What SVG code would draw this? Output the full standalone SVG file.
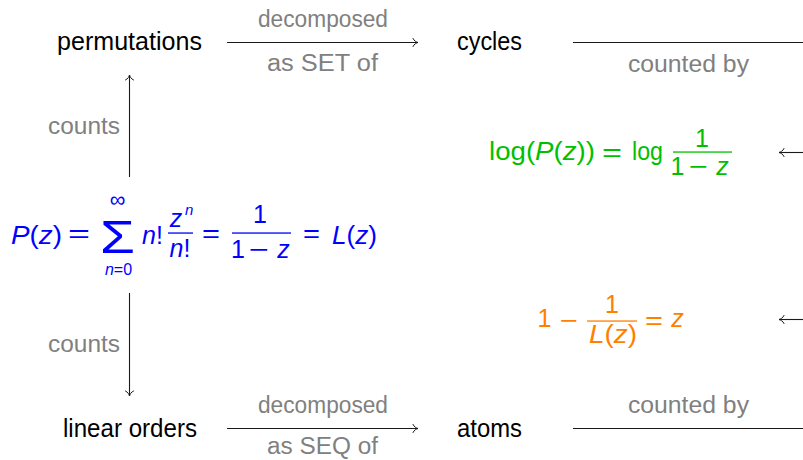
<svg xmlns="http://www.w3.org/2000/svg" width="803" height="460" viewBox="0 0 803 460">
<style>
.node{font-family:"Liberation Sans",Arial,sans-serif;font-size:25px;fill:#000}
.lbl{font-family:"Liberation Sans",Arial,sans-serif;font-size:23.5px;fill:#808080}
.m{font-family:"Liberation Sans",Arial,sans-serif;font-size:25px}
.c{text-anchor:middle}
.i{font-style:italic}
.edge{stroke:#1a1a1a;stroke-width:1.1;fill:none}
.blue{fill:#0000ff}
.green{fill:#00bf00}
.orange{fill:#ff8000}
</style>
<defs>
<marker id="to" markerUnits="userSpaceOnUse" markerWidth="12" markerHeight="12" refX="0" refY="0" viewBox="-7 -6 8 12" orient="auto">
<path d="M-5,-4 C-4,-1.6 -1.5,-0.4 0,0 C-1.5,0.4 -4,1.6 -5,4" fill="none" stroke="#1a1a1a" stroke-width="1" stroke-linecap="round"/>
</marker>
</defs>

<g id="connectors">
<line class="edge" x1="227" y1="42.5" x2="418" y2="42.5" marker-end="url(#to)"/>
<line class="edge" x1="573" y1="42.5" x2="803" y2="42.5"/>
<line class="edge" x1="227" y1="428.5" x2="418" y2="428.5" marker-end="url(#to)"/>
<line class="edge" x1="573" y1="428.5" x2="803" y2="428.5"/>
<line class="edge" x1="129.5" y1="177" x2="129.5" y2="75" marker-end="url(#to)"/>
<line class="edge" x1="129.5" y1="293" x2="129.5" y2="396" marker-end="url(#to)"/>
<line class="edge" x1="803" y1="152.5" x2="779" y2="152.5" marker-end="url(#to)"/>
<line class="edge" x1="803" y1="319.5" x2="779" y2="319.5" marker-end="url(#to)"/>
<g id="edge-labels">
<text class="lbl" x="258" y="27" textLength="130" lengthAdjust="spacingAndGlyphs">decomposed</text>
<text class="lbl" x="267" y="71" textLength="111" lengthAdjust="spacingAndGlyphs">as SET of</text>
<text class="lbl" x="628" y="72" textLength="121" lengthAdjust="spacingAndGlyphs">counted by</text>
<text class="lbl" x="258" y="413" textLength="130" lengthAdjust="spacingAndGlyphs">decomposed</text>
<text class="lbl" x="267" y="454" textLength="111" lengthAdjust="spacingAndGlyphs">as SEQ of</text>
<text class="lbl" x="628" y="413" textLength="121" lengthAdjust="spacingAndGlyphs">counted by</text>
<text class="lbl" x="48" y="134" textLength="72" lengthAdjust="spacingAndGlyphs">counts</text>
<text class="lbl" x="48" y="352" textLength="72" lengthAdjust="spacingAndGlyphs">counts</text>
</g>
</g>

<g id="permutations"><text class="node" x="57" y="50" textLength="145" lengthAdjust="spacingAndGlyphs">permutations</text></g>
<g id="cycles"><text class="node" x="457" y="50" textLength="65" lengthAdjust="spacingAndGlyphs">cycles</text></g>
<g id="linear-orders"><text class="node" x="63" y="437" textLength="134" lengthAdjust="spacingAndGlyphs">linear orders</text></g>
<g id="atoms"><text class="node" x="457" y="437" textLength="65" lengthAdjust="spacingAndGlyphs">atoms</text></g>

<g id="P-formula" class="m blue">
<text x="11" y="244" textLength="51" lengthAdjust="spacingAndGlyphs"><tspan class="i">P</tspan>(<tspan class="i">z</tspan>)</text>
<text x="68" y="242" textLength="22" lengthAdjust="spacingAndGlyphs">=</text>
<text x="100" y="253" font-size="46" textLength="35" lengthAdjust="spacingAndGlyphs">Σ</text>
<text class="c" x="117.5" y="207" font-size="22">∞</text>
<text class="c" x="118.5" y="275" font-size="16"><tspan class="i">n</tspan>=0</text>
<text x="142" y="244"><tspan class="i">n</tspan>!</text>
<text class="c i" x="176" y="227">z</text>
<text x="185" y="215" font-size="15" class="i">n</text>
<rect x="168" y="232.4" width="25" height="1.3"/>
<text class="c" x="180" y="257"><tspan class="i">n</tspan>!</text>
<text x="202" y="242" textLength="18" lengthAdjust="spacingAndGlyphs">=</text>
<text class="c" x="260" y="223">1</text>
<rect x="232" y="232.4" width="59" height="1.3"/>
<text class="c" x="238" y="258">1</text>
<text x="249" y="258" textLength="20" lengthAdjust="spacingAndGlyphs">−</text>
<text class="c i" x="283.5" y="258">z</text>
<text x="303" y="242" textLength="17" lengthAdjust="spacingAndGlyphs">=</text>
<text x="332" y="244" textLength="45" lengthAdjust="spacingAndGlyphs"><tspan class="i">L</tspan>(<tspan class="i">z</tspan>)</text>
</g>

<g id="log-formula" class="m green">
<text x="489" y="160" textLength="106" lengthAdjust="spacingAndGlyphs">log(<tspan class="i">P</tspan>(<tspan class="i">z</tspan>))</text>
<text x="602" y="161" textLength="20" lengthAdjust="spacingAndGlyphs">=</text>
<text x="632" y="160" textLength="31" lengthAdjust="spacingAndGlyphs">log</text>
<text class="c" x="702" y="147">1</text>
<rect x="673" y="151.4" width="59" height="1.3"/>
<text class="c" x="677.5" y="175">1</text>
<text x="689" y="175" textLength="19" lengthAdjust="spacingAndGlyphs">−</text>
<text class="c i" x="722.5" y="175">z</text>
</g>

<g id="L-formula" class="m orange">
<text class="c" x="544.5" y="327">1</text>
<text x="560" y="329" textLength="18" lengthAdjust="spacingAndGlyphs">−</text>
<text class="c" x="612" y="313">1</text>
<rect x="587" y="320.4" width="50" height="1.3"/>
<text x="589" y="343" textLength="48" lengthAdjust="spacingAndGlyphs"><tspan class="i">L</tspan>(<tspan class="i">z</tspan>)</text>
<text x="645" y="329" textLength="18" lengthAdjust="spacingAndGlyphs">=</text>
<text class="c i" x="677.5" y="327">z</text>
</g>
</svg>
